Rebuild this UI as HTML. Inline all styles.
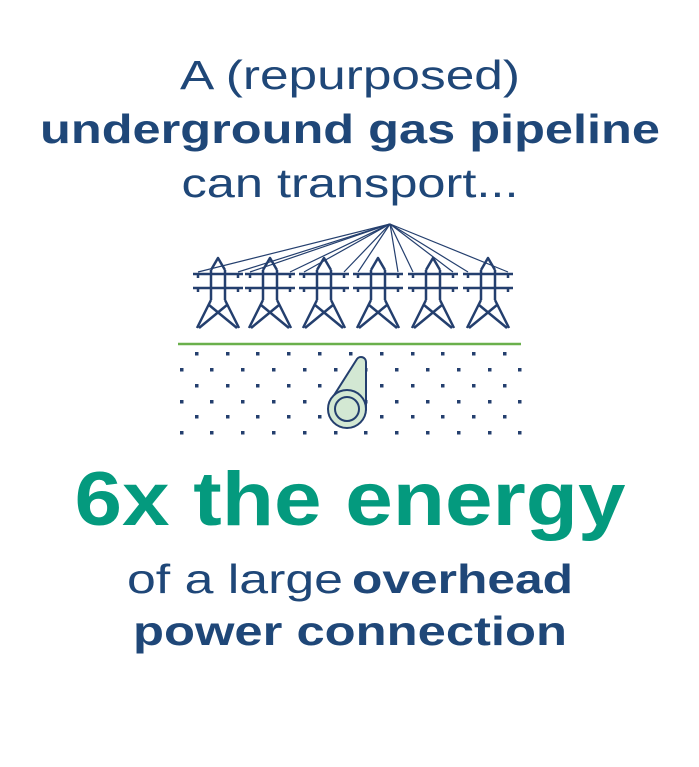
<!DOCTYPE html>
<html><head><meta charset="utf-8"><style>
html,body{margin:0;padding:0;background:#fff;}
svg{display:block}
text{font-family:"Liberation Sans",sans-serif;}
</style></head><body>
<svg width="699" height="767" viewBox="0 0 699 767" xmlns="http://www.w3.org/2000/svg">
<defs>
<g id="tw" fill="none" stroke="#243f6e" stroke-width="2.5" stroke-linejoin="round">
<path d="M-7 270 L0 258 L7 270 M-7 270 V300 M7 270 V300 M-7 300 L-21 328 M7 300 L21 328 M-9 305 L19 328 M9 305 L-19 328"/>
<path d="M-25 274 H25 M-25 288 H25 M-20 274 v4 M20 274 v4 M-20 288 v4 M20 288 v4"/>
</g>
</defs>
<text x="350" y="89" text-anchor="middle" font-size="41" fill="#1f4778" textLength="340" lengthAdjust="spacingAndGlyphs">A (repurposed)</text>
<text x="350" y="143" text-anchor="middle" font-size="41" font-weight="bold" fill="#1f4778" textLength="620" lengthAdjust="spacingAndGlyphs">underground gas pipeline</text>
<text x="350" y="197" text-anchor="middle" font-size="41" fill="#1f4778" textLength="337" lengthAdjust="spacingAndGlyphs">can transport...</text>

<g stroke="#243f6e" stroke-width="1.2">
<line x1="390" y1="224" x2="198" y2="272"/><line x1="390" y1="224" x2="238" y2="272"/>
<line x1="390" y1="224" x2="250" y2="272"/><line x1="390" y1="224" x2="290" y2="272"/>
<line x1="390" y1="224" x2="304" y2="272"/><line x1="390" y1="224" x2="344" y2="272"/>
<line x1="390" y1="224" x2="358" y2="272"/><line x1="390" y1="224" x2="398" y2="272"/>
<line x1="390" y1="224" x2="413" y2="272"/><line x1="390" y1="224" x2="453" y2="272"/>
<line x1="390" y1="224" x2="468" y2="272"/><line x1="390" y1="224" x2="508" y2="272"/>
</g>
<use href="#tw" x="218"/><use href="#tw" x="270"/><use href="#tw" x="324"/>
<use href="#tw" x="378"/><use href="#tw" x="433"/><use href="#tw" x="488"/>

<line x1="178" y1="344" x2="521" y2="344" stroke="#6ab04c" stroke-width="2.5"/>
<g fill="#243f6e">
<g id="r1"><rect x="195" y="352" width="3.5" height="3.5"/><rect x="226" y="352" width="3.5" height="3.5"/><rect x="256" y="352" width="3.5" height="3.5"/><rect x="287" y="352" width="3.5" height="3.5"/><rect x="318" y="352" width="3.5" height="3.5"/><rect x="349" y="352" width="3.5" height="3.5"/><rect x="380" y="352" width="3.5" height="3.5"/><rect x="411" y="352" width="3.5" height="3.5"/><rect x="441" y="352" width="3.5" height="3.5"/><rect x="472" y="352" width="3.5" height="3.5"/><rect x="503" y="352" width="3.5" height="3.5"/></g>
<g id="r2"><rect x="180" y="368" width="3.5" height="3.5"/><rect x="210" y="368" width="3.5" height="3.5"/><rect x="241" y="368" width="3.5" height="3.5"/><rect x="272" y="368" width="3.5" height="3.5"/><rect x="303" y="368" width="3.5" height="3.5"/><rect x="334" y="368" width="3.5" height="3.5"/><rect x="364" y="368" width="3.5" height="3.5"/><rect x="395" y="368" width="3.5" height="3.5"/><rect x="426" y="368" width="3.5" height="3.5"/><rect x="457" y="368" width="3.5" height="3.5"/><rect x="488" y="368" width="3.5" height="3.5"/><rect x="518" y="368" width="3.5" height="3.5"/></g>
<use href="#r1" y="32"/><use href="#r2" y="32"/><use href="#r1" y="63"/><use href="#r2" y="63"/>
</g>
<g stroke="#243f6e" stroke-width="2" stroke-linejoin="round">
<path d="M366 410 L366 362 A5 5 0 0 0 357 359 L331 400 Z" fill="#d3e8d3"/>
<circle cx="347" cy="409" r="19" fill="#d3e8d3"/>
<circle cx="347" cy="409" r="12" fill="#d3e8d3"/>
</g>

<text x="350" y="525" text-anchor="middle" font-size="76" font-weight="bold" fill="#049a7e" textLength="551" lengthAdjust="spacingAndGlyphs">6x the energy</text>
<text x="127" y="593" font-size="41" fill="#1f4778" textLength="216" lengthAdjust="spacingAndGlyphs">of a large</text>
<text x="352" y="593" font-size="41" font-weight="bold" fill="#1f4778" textLength="221" lengthAdjust="spacingAndGlyphs">overhead</text>
<text x="350" y="645" text-anchor="middle" font-size="41" font-weight="bold" fill="#1f4778" textLength="434" lengthAdjust="spacingAndGlyphs">power connection</text>
</svg>
</body></html>
